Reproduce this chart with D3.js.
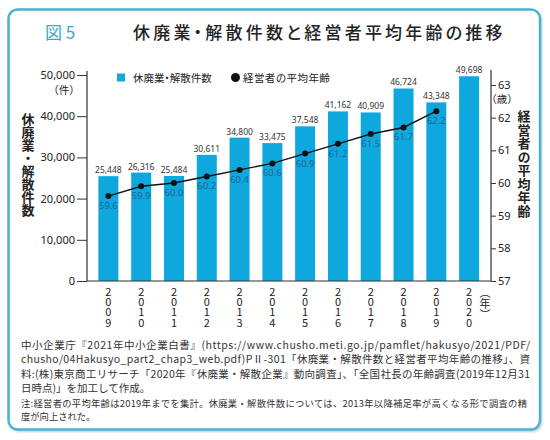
<!DOCTYPE html>
<html>
<head>
<meta charset="utf-8">
<script src="https://cdn.jsdelivr.net/npm/d3@7"></script>
<style>
  body { margin: 0; background: #fff; }
  svg { display: block; }
  .jp { font-family: "Noto Sans CJK JP", "Noto Sans", sans-serif; }
  .num { font-family: "Noto Sans", "DejaVu Sans", sans-serif; }
</style>
</head>
<body>
<script>
// data
var years = ["2009","2010","2011","2012","2013","2014","2015","2016","2017","2018","2019","2020"];
var closures = [25448, 26316, 25484, 30611, 34800, 33475, 37548, 41162, 40909, 46724, 43348, 49698];
var ageYears = ["2009","2010","2011","2012","2013","2014","2015","2016","2017","2018","2019"];
var avgAge = [59.6, 59.9, 60.0, 60.2, 60.4, 60.6, 60.9, 61.2, 61.5, 61.7, 62.2];
var leftTicks = [0, 10000, 20000, 30000, 40000, 50000];
var rightTicks = [57, 58, 59, 60, 61, 62, 63];
var notes = [
  "中小企業庁『2021年中小企業白書』(https://www.chusho.meti.go.jp/pamflet/hakusyo/2021/PDF/",
  "chusho/04Hakusyo_part2_chap3_web.pdf)PⅡ-301「休廃業・解散件数と経営者平均年齢の推移」、資",
  "料:(株)東京商工リサーチ「2020年『休廃業・解散企業』動向調査」、「全国社長の年齢調査(2019年12月31",
  "日時点)」を加工して作成。"
];
var notes2 = [
  "注:経営者の平均年齢は2019年までを集計。休廃業・解散件数については、2013年以降補足率が高くなる形で調査の精",
  "度が向上された。"
];

var width = 550,
    height = 440;

var barColor = "#0fa8de",
    cyan = "#3aa9cc",
    ink = "#222";

var svg = d3.select("body").append("svg")
    .attr("width", width)
    .attr("height", height);

var defs = svg.append("defs");
defs.append("filter").attr("id", "shadow")
    .attr("x", "-5%").attr("y", "-5%").attr("width", "110%").attr("height", "110%")
  .append("feGaussianBlur").attr("stdDeviation", 1.2);

// frame
svg.append("rect")
    .attr("x", 10).attr("y", 11)
    .attr("width", 532).attr("height", 421)
    .attr("rx", 9)
    .attr("fill", "#c8c8c8")
    .attr("filter", "url(#shadow)");
svg.append("rect")
    .attr("x", 8.5).attr("y", 9.5)
    .attr("width", 531.5).attr("height", 420)
    .attr("rx", 9)
    .attr("fill", "#fff")
    .attr("stroke", "#45b4d6")
    .attr("stroke-width", 2.5);

// title
svg.append("text").attr("class", "jp")
    .attr("x", 45).attr("y", 39)
    .attr("fill", cyan)
    .style("font-size", "17px")
    .text("図 5");
svg.append("text").attr("class", "jp")
    .attr("x", 133).attr("y", 39)
    .attr("fill", ink)
    .style("font-size", "17px")
    .style("font-weight", 500)
    .style("letter-spacing", "3.2px")
    .style("font-feature-settings", "'palt'")
    .text("休廃業・解散件数と経営者平均年齢の推移");

// scales
var x = d3.scaleBand()
    .domain(years)
    .range([92, 485.5])
    .paddingInner(0.39)
    .paddingOuter(0.195);

var yL = d3.scaleLinear().domain([0, 50000]).range([281, 75]);
var yR = d3.scaleLinear().domain([57, 63]).range([281, 85]);

var plotLeft = 87,
    plotRight = 491;

// bars
svg.append("g").selectAll("rect")
    .data(closures)
  .enter().append("rect")
    .attr("x", function(d, i) { return x(years[i]); })
    .attr("y", function(d) { return yL(d); })
    .attr("width", x.bandwidth())
    .attr("height", function(d) { return yL(0) - yL(d); })
    .attr("fill", barColor);

svg.append("g").selectAll("text")
    .data(closures)
  .enter().append("text")
    .attr("class", "num")
    .attr("x", function(d, i) { return x(years[i]) + x.bandwidth() / 2; })
    .attr("y", function(d) { return yL(d) - 3; })
    .attr("text-anchor", "middle")
    .attr("fill", "#333")
    .style("font-size", "8.5px")
    .text(d3.format(","));

// left axis
var gL = svg.append("g")
    .attr("transform", "translate(" + plotLeft + ",0)")
    .call(d3.axisLeft(yL).tickValues(leftTicks).tickFormat(d3.format(",")).tickSize(10).tickPadding(2));
gL.select(".domain").remove();
gL.selectAll("line").attr("stroke", "#333");
gL.selectAll("text").attr("class", "num").attr("fill", ink).style("font-size", "11px");

// right axis
var gR = svg.append("g")
    .attr("transform", "translate(" + plotRight + ",0)")
    .call(d3.axisRight(yR).tickValues(rightTicks).tickFormat(d3.format("d")).tickSize(5).tickPadding(2));
gR.select(".domain").remove();
gR.selectAll("line").attr("stroke", "#333");
gR.selectAll("text").attr("class", "num").attr("fill", ink).style("font-size", "11px");

// axis lines
svg.append("path")
    .attr("d", "M" + plotLeft + "," + (yL(50000) - 4) + "V" + yL(0) + "H" + plotRight + "V" + (yR(63) - 15))
    .attr("fill", "none")
    .attr("stroke", "#333")
    .attr("stroke-width", 1.2);

// year labels, digits stacked upright
svg.append("g").selectAll("text")
    .data(years)
  .enter().append("text")
    .attr("class", "jp")
    .attr("x", function(d) { return x(d) + x.bandwidth() / 2; })
    .attr("y", 286)
    .attr("fill", ink)
    .style("font-size", "11px")
    .style("letter-spacing", "-0.6px")
    .style("writing-mode", "vertical-rl")
    .style("text-orientation", "upright")
    .text(function(d) { return d; });

svg.append("text").attr("class", "jp")
    .attr("x", x("2020") + x.bandwidth() + 6)
    .attr("y", 287)
    .attr("fill", ink)
    .style("font-size", "11px")
    .style("writing-mode", "vertical-rl")
    .text("（年）");

// age line
var line = d3.line()
    .x(function(d, i) { return x(ageYears[i]) + x.bandwidth() / 2; })
    .y(function(d) { return yR(d); });

svg.append("path")
    .datum(avgAge)
    .attr("d", line)
    .attr("fill", "none")
    .attr("stroke", "#111")
    .attr("stroke-width", 1.4);

svg.append("g").selectAll("circle")
    .data(avgAge)
  .enter().append("circle")
    .attr("cx", function(d, i) { return x(ageYears[i]) + x.bandwidth() / 2; })
    .attr("cy", function(d) { return yR(d); })
    .attr("r", 3)
    .attr("fill", "#111");

svg.append("g").selectAll("text")
    .data(avgAge)
  .enter().append("text")
    .attr("class", "num")
    .attr("x", function(d, i) { return x(ageYears[i]) + x.bandwidth() / 2; })
    .attr("y", function(d) { return yR(d) + 13; })
    .attr("text-anchor", "middle")
    .attr("fill", "#1b6690")
    .style("font-size", "9.5px")
    .text(d3.format(".1f"));

// axis titles and units
svg.append("text").attr("class", "jp")
    .attr("x", 64).attr("y", 94)
    .attr("text-anchor", "middle")
    .attr("fill", ink)
    .style("font-size", "10.5px")
    .text("（件）");
svg.append("text").attr("class", "jp")
    .attr("x", 502).attr("y", 103)
    .attr("text-anchor", "middle")
    .attr("fill", ink)
    .style("font-size", "10.5px")
    .text("（歳）");

svg.append("text").attr("class", "jp")
    .attr("x", 28).attr("y", 113)
    .attr("fill", ink)
    .style("font-size", "13px")
    .style("font-weight", "bold")
    .style("writing-mode", "vertical-rl")
    .text("休廃業・解散件数");
svg.append("text").attr("class", "jp")
    .attr("x", 524).attr("y", 110)
    .attr("fill", ink)
    .style("font-size", "13px")
    .style("font-weight", "bold")
    .style("letter-spacing", "0.5px")
    .style("writing-mode", "vertical-rl")
    .text("経営者の平均年齢");

// legend
svg.append("rect")
    .attr("x", 117).attr("y", 73.5)
    .attr("width", 8).attr("height", 8)
    .attr("fill", barColor);
svg.append("text").attr("class", "jp")
    .attr("x", 133).attr("y", 81.5)
    .attr("fill", ink)
    .style("font-size", "10.5px")
    .style("font-feature-settings", "'palt'")
    .text("休廃業・解散件数");
svg.append("circle")
    .attr("cx", 235.5).attr("cy", 77.5)
    .attr("r", 4.5)
    .attr("fill", "#111");
svg.append("text").attr("class", "jp")
    .attr("x", 243).attr("y", 81.5)
    .attr("fill", ink)
    .style("font-size", "10.5px")
    .style("letter-spacing", "0.4px")
    .text("経営者の平均年齢");

// source notes (justified lines)
svg.append("g").selectAll("text")
    .data(notes)
  .enter().append("text")
    .attr("class", "jp")
    .attr("x", 21)
    .attr("y", function(d, i) { return 349 + i * 14.4; })
    .attr("fill", "#333")
    .style("font-size", "10.5px")
    .each(function(d, i) {
      if (i < notes.length - 1) d3.select(this).attr("textLength", 509).attr("lengthAdjust", "spacing");
    })
    .text(function(d) { return d; });

svg.append("g").selectAll("text")
    .data(notes2)
  .enter().append("text")
    .attr("class", "jp")
    .attr("x", 21)
    .attr("y", function(d, i) { return 406.5 + i * 13.5; })
    .attr("fill", "#333")
    .style("font-size", "9.3px")
    .each(function(d, i) {
      if (i < notes2.length - 1) d3.select(this).attr("textLength", 506).attr("lengthAdjust", "spacing");
    })
    .text(function(d) { return d; });
</script>
</body>
</html>
